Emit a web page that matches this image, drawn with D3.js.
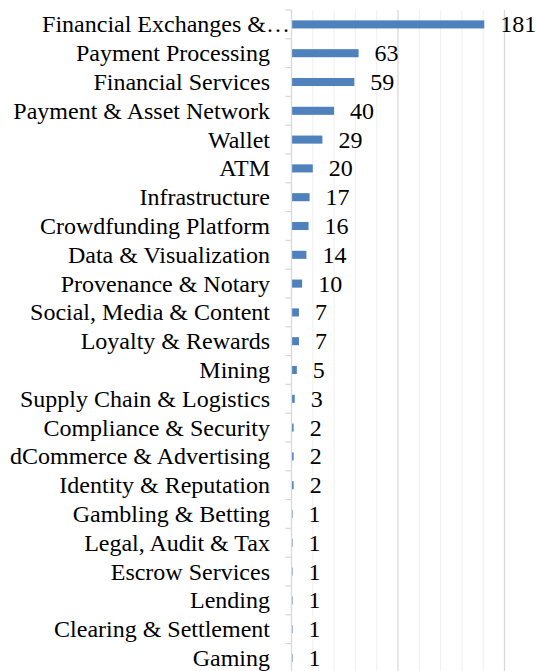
<!DOCTYPE html>
<html>
<head>
<meta charset="utf-8">
<script src="https://cdn.jsdelivr.net/npm/d3@7"></script>
<style>
  body { margin: 0; background: #fff; }
</style>
</head>
<body>
<div id="viz"></div>
<script>
const categories = ["Financial Exchanges &\u2026", "Payment Processing", "Financial Services",
  "Payment & Asset Network", "Wallet", "ATM", "Infrastructure", "Crowdfunding Platform",
  "Data & Visualization", "Provenance & Notary", "Social, Media & Content", "Loyalty & Rewards",
  "Mining", "Supply Chain & Logistics", "Compliance & Security", "dCommerce & Advertising",
  "Identity & Reputation", "Gambling & Betting", "Legal, Audit & Tax", "Escrow Services",
  "Lending", "Clearing & Settlement", "Gaming"]
const values = [181, 63, 59, 40, 29, 20, 17, 16, 14, 10, 7, 7, 5, 3, 2, 2, 2, 1, 1, 1, 1, 1, 1]
const majorTicks = [0, 100, 200]
const minorTicks = [20, 40, 60, 80, 120, 140, 160, 180]

const width = 536
const height = 671
const margin = {top: 10, left: 291.5, right: 31.5}
const plotBottom = margin.top + 28.8 * categories.length

const data = categories.map((c, i) => ({name: c, value: values[i]}))

const svg = d3.select("#viz").append("svg")
    .attr("width", width)
    .attr("height", height)

const xScale = d3.scaleLinear()
    .domain([0, 200])
    .range([margin.left, width - margin.right])

const yScale = d3.scaleBand()
    .domain(categories)
    .range([margin.top, plotBottom])
    .paddingInner(0.72)
    .paddingOuter(0.36)

const grid = svg.append("g")
grid.selectAll("line.minor")
    .data(minorTicks)
    .join("line")
    .attr("class", "minor")
    .attr("x1", d => xScale(d)).attr("x2", d => xScale(d))
    .attr("y1", margin.top).attr("y2", plotBottom)
    .attr("stroke", "#f2f2f2")
    .attr("stroke-width", 1.3)
grid.selectAll("line.major")
    .data(majorTicks.slice(1))
    .join("line")
    .attr("class", "major")
    .attr("x1", d => xScale(d)).attr("x2", d => xScale(d))
    .attr("y1", margin.top).attr("y2", plotBottom)
    .attr("stroke", "#d9d9d9")
    .attr("stroke-width", 1.3)

svg.append("g")
    .selectAll("rect")
    .data(data)
    .join("rect")
    .attr("x", xScale(0))
    .attr("y", d => yScale(d.name))
    .attr("width", d => xScale(d.value) - xScale(0))
    .attr("height", yScale.bandwidth())
    .attr("fill", "#4f81bd")

// y axis with ticks between categories
const step = yScale.step()
const axis = svg.append("g")
axis.append("line")
    .attr("x1", xScale(0)).attr("x2", xScale(0))
    .attr("y1", margin.top).attr("y2", plotBottom)
    .attr("stroke", "#d9d9d9")
    .attr("stroke-width", 1.3)
axis.selectAll("line.tick")
    .data(d3.range(categories.length + 1))
    .join("line")
    .attr("class", "tick")
    .attr("x1", xScale(0) - 6).attr("x2", xScale(0))
    .attr("y1", i => margin.top + i * step)
    .attr("y2", i => margin.top + i * step)
    .attr("stroke", "#d9d9d9")
    .attr("stroke-width", 1.3)

svg.append("g")
    .selectAll("text")
    .data(data)
    .join("text")
    .attr("x", d => d.name.endsWith("\u2026") ? xScale(0) - 1.5 : xScale(0) - 21.5)
    .attr("y", d => yScale(d.name) + yScale.bandwidth() / 2)
    .attr("dy", "0.33em")
    .attr("text-anchor", "end")
    .style("font-family", "Liberation Serif")
    .style("font-size", "24px")
    .attr("fill", "#000")
    .text(d => d.name)

svg.append("g")
    .selectAll("text")
    .data(data)
    .join("text")
    .attr("x", d => xScale(d.value) + 16)
    .attr("y", d => yScale(d.name) + yScale.bandwidth() / 2)
    .attr("dy", "0.33em")
    .style("font-family", "Liberation Serif")
    .style("font-size", "24px")
    .attr("fill", "#000")
    .text(d => d.value)
</script>
</body>
</html>
